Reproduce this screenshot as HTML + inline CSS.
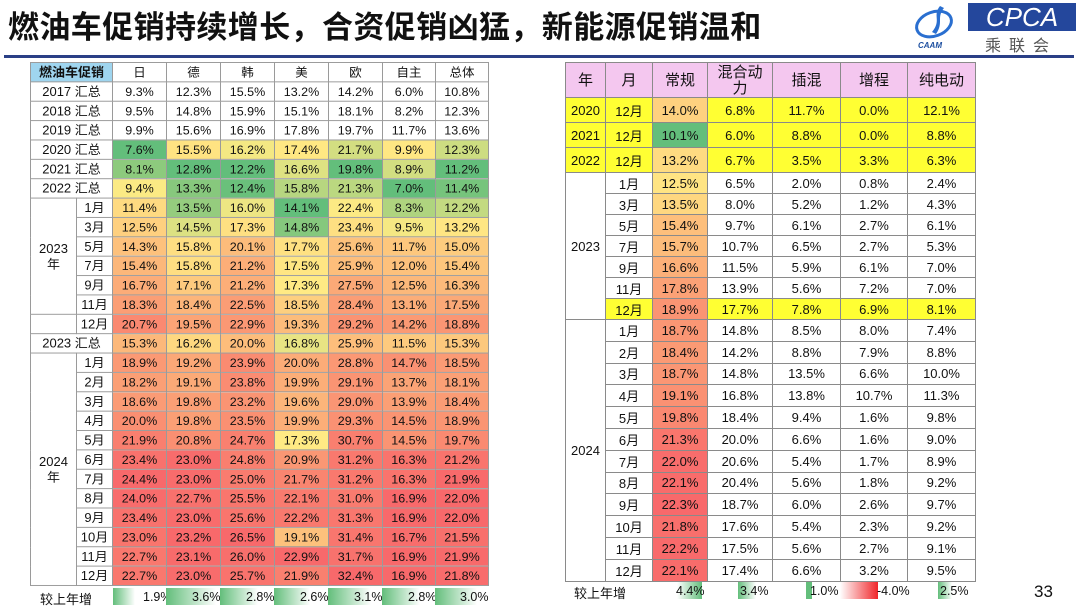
<!DOCTYPE html>
<html><head><meta charset="utf-8">
<style>
*{margin:0;padding:0;box-sizing:border-box}
body{width:1080px;height:608px;background:#fff;position:relative;overflow:hidden;font-family:"Liberation Sans","Noto Sans CJK SC",sans-serif;color:#111}
.title{position:absolute;left:8px;top:2px;font-size:31px;font-weight:bold;letter-spacing:0.4px;font-family:"Noto Sans CJK SC","WenQuanYi Zen Hei",sans-serif;color:#111;white-space:nowrap}
.line{position:absolute;left:4px;right:6px;top:55px;height:3px;background:#2a3f86}
table{position:absolute;border-collapse:collapse;table-layout:fixed;font-size:12.5px}
td{border:1px solid #9a9a9a;text-align:center;white-space:nowrap;overflow:hidden;padding:0}
#L{left:30px;top:62px;width:458px;transform:scaleY(0.9685);transform-origin:0 0}
#L tr{height:20px}
#L td{line-height:16px}
#L td.lab{font-size:13px}
#R{left:565px;top:62px;width:410px;font-size:13px}
#R td{border-color:#8a8a8a}
#R tr.hd td{background:#f4c7ef;height:35px;font-size:15px;line-height:16px;font-family:"Noto Sans CJK SC",sans-serif}
#R tr.y td{background:#ffff33;height:25px}
#R tr.a td{height:21px}
#R tr.b td{height:21.8px}
.foot{position:absolute;font-size:12.5px}
.bar{position:absolute;height:17px}
</style></head><body>
<div class="title">燃油车促销持续增长，合资促销凶猛，新能源促销温和</div>
<div class="line"></div>
<svg style="position:absolute;left:912px;top:2px" width="48" height="48" viewBox="0 0 48 48">
<ellipse cx="22" cy="22" rx="18" ry="12" fill="none" stroke="#2a6fd0" stroke-width="3" transform="rotate(-20 22 22)"/>
<path d="M28 4 C20 14 30 18 20 30 L24 32 C32 20 24 16 32 6Z" fill="#2a6fd0"/>
<text x="6" y="46" font-size="8" font-weight="bold" font-style="italic" fill="#1d4fa0" font-family="Liberation Sans">CAAM</text>
</svg>
<div style="position:absolute;left:968px;top:3px;width:108px;height:28px;background:#24479c;color:#fff;font:italic 26px 'Liberation Sans',sans-serif;line-height:28px;text-align:center">CPCA</div>
<div style="position:absolute;left:985px;top:32px;font-size:16px;color:#555;letter-spacing:8px;font-family:'Noto Sans CJK SC',sans-serif">乘联会</div>

<table id="L">
<colgroup><col style="width:46px"><col style="width:36px"><col style="width:54px"><col style="width:54px"><col style="width:54px"><col style="width:54px"><col style="width:54px"><col style="width:53px"><col style="width:53px"></colgroup>
<tr><td colspan="2" class="lab" style="background:#9fd5ef;font-weight:bold">燃油车促销</td><td>日</td><td>德</td><td>韩</td><td>美</td><td>欧</td><td>自主</td><td>总体</td></tr>
<tr><td colspan="2" class="lab">2017 汇总</td><td>9.3%</td><td>12.3%</td><td>15.5%</td><td>13.2%</td><td>14.2%</td><td>6.0%</td><td>10.8%</td></tr>
<tr><td colspan="2" class="lab">2018 汇总</td><td>9.5%</td><td>14.8%</td><td>15.9%</td><td>15.1%</td><td>18.1%</td><td>8.2%</td><td>12.3%</td></tr>
<tr><td colspan="2" class="lab">2019 汇总</td><td>9.9%</td><td>15.6%</td><td>16.9%</td><td>17.8%</td><td>19.7%</td><td>11.7%</td><td>13.6%</td></tr>
<tr class="hm"><td colspan="2" class="lab">2020 汇总</td><td>7.6%</td><td>15.5%</td><td>16.2%</td><td>17.4%</td><td>21.7%</td><td>9.9%</td><td>12.3%</td></tr>
<tr class="hm"><td colspan="2" class="lab">2021 汇总</td><td>8.1%</td><td>12.8%</td><td>12.2%</td><td>16.6%</td><td>19.8%</td><td>8.9%</td><td>11.2%</td></tr>
<tr class="hm"><td colspan="2" class="lab">2022 汇总</td><td>9.4%</td><td>13.3%</td><td>12.4%</td><td>15.8%</td><td>21.3%</td><td>7.0%</td><td>11.4%</td></tr>
<tr class="hm"><td rowspan="6" class="lab">2023<br>年</td><td class="lab">1月</td><td>11.4%</td><td>13.5%</td><td>16.0%</td><td>14.1%</td><td>22.4%</td><td>8.3%</td><td>12.2%</td></tr>
<tr class="hm"><td class="lab">3月</td><td>12.5%</td><td>14.5%</td><td>17.3%</td><td>14.8%</td><td>23.4%</td><td>9.5%</td><td>13.2%</td></tr>
<tr class="hm"><td class="lab">5月</td><td>14.3%</td><td>15.8%</td><td>20.1%</td><td>17.7%</td><td>25.6%</td><td>11.7%</td><td>15.0%</td></tr>
<tr class="hm"><td class="lab">7月</td><td>15.4%</td><td>15.8%</td><td>21.2%</td><td>17.5%</td><td>25.9%</td><td>12.0%</td><td>15.4%</td></tr>
<tr class="hm"><td class="lab">9月</td><td>16.7%</td><td>17.1%</td><td>21.2%</td><td>17.3%</td><td>27.5%</td><td>12.5%</td><td>16.3%</td></tr>
<tr class="hm"><td class="lab">11月</td><td>18.3%</td><td>18.4%</td><td>22.5%</td><td>18.5%</td><td>28.4%</td><td>13.1%</td><td>17.5%</td></tr>
<tr class="hm"><td></td><td class="lab">12月</td><td>20.7%</td><td>19.5%</td><td>22.9%</td><td>19.3%</td><td>29.2%</td><td>14.2%</td><td>18.8%</td></tr>
<tr class="hm"><td colspan="2" class="lab">2023 汇总</td><td>15.3%</td><td>16.2%</td><td>20.0%</td><td>16.8%</td><td>25.9%</td><td>11.5%</td><td>15.3%</td></tr>
<tr class="hm"><td rowspan="12" class="lab">2024<br>年</td><td class="lab">1月</td><td>18.9%</td><td>19.2%</td><td>23.9%</td><td>20.0%</td><td>28.8%</td><td>14.7%</td><td>18.5%</td></tr>
<tr class="hm"><td class="lab">2月</td><td>18.2%</td><td>19.1%</td><td>23.8%</td><td>19.9%</td><td>29.1%</td><td>13.7%</td><td>18.1%</td></tr>
<tr class="hm"><td class="lab">3月</td><td>18.6%</td><td>19.8%</td><td>23.2%</td><td>19.6%</td><td>29.0%</td><td>13.9%</td><td>18.4%</td></tr>
<tr class="hm"><td class="lab">4月</td><td>20.0%</td><td>19.8%</td><td>23.5%</td><td>19.9%</td><td>29.3%</td><td>14.5%</td><td>18.9%</td></tr>
<tr class="hm"><td class="lab">5月</td><td>21.9%</td><td>20.8%</td><td>24.7%</td><td>17.3%</td><td>30.7%</td><td>14.5%</td><td>19.7%</td></tr>
<tr class="hm"><td class="lab">6月</td><td>23.4%</td><td>23.0%</td><td>24.8%</td><td>20.9%</td><td>31.2%</td><td>16.3%</td><td>21.2%</td></tr>
<tr class="hm"><td class="lab">7月</td><td>24.4%</td><td>23.0%</td><td>25.0%</td><td>21.7%</td><td>31.2%</td><td>16.3%</td><td>21.9%</td></tr>
<tr class="hm"><td class="lab">8月</td><td>24.0%</td><td>22.7%</td><td>25.5%</td><td>22.1%</td><td>31.0%</td><td>16.9%</td><td>22.0%</td></tr>
<tr class="hm"><td class="lab">9月</td><td>23.4%</td><td>23.0%</td><td>25.6%</td><td>22.2%</td><td>31.3%</td><td>16.9%</td><td>22.0%</td></tr>
<tr class="hm"><td class="lab">10月</td><td>23.0%</td><td>23.2%</td><td>26.5%</td><td>19.1%</td><td>31.4%</td><td>16.7%</td><td>21.5%</td></tr>
<tr class="hm"><td class="lab">11月</td><td>22.7%</td><td>23.1%</td><td>26.0%</td><td>22.9%</td><td>31.7%</td><td>16.9%</td><td>21.9%</td></tr>
<tr class="hm"><td class="lab">12月</td><td>22.7%</td><td>23.0%</td><td>25.7%</td><td>21.9%</td><td>32.4%</td><td>16.9%</td><td>21.8%</td></tr>
</table>

<div class="foot" style="left:40px;top:589px;font-size:13px">较上年增</div>
<div class="bar" style="left:113px;top:588px;width:22px;background:linear-gradient(90deg,#63be7b,#fff)"></div><div class="foot" style="left:143px;top:590px">1.9%</div>
<div class="bar" style="left:166px;top:588px;width:50px;background:linear-gradient(90deg,#63be7b,#fff)"></div><div class="foot" style="left:192px;top:590px">3.6%</div>
<div class="bar" style="left:220px;top:588px;width:38px;background:linear-gradient(90deg,#63be7b,#fff)"></div><div class="foot" style="left:246px;top:590px">2.8%</div>
<div class="bar" style="left:274px;top:588px;width:36px;background:linear-gradient(90deg,#63be7b,#fff)"></div><div class="foot" style="left:300px;top:590px">2.6%</div>
<div class="bar" style="left:328px;top:588px;width:43px;background:linear-gradient(90deg,#63be7b,#fff)"></div><div class="foot" style="left:354px;top:590px">3.1%</div>
<div class="bar" style="left:382px;top:588px;width:38px;background:linear-gradient(90deg,#63be7b,#fff)"></div><div class="foot" style="left:408px;top:590px">2.8%</div>
<div class="bar" style="left:435px;top:588px;width:42px;background:linear-gradient(90deg,#63be7b,#fff)"></div><div class="foot" style="left:460px;top:590px">3.0%</div>

<table id="R">
<colgroup><col style="width:40px"><col style="width:47px"><col style="width:55px"><col style="width:65px"><col style="width:68px"><col style="width:67px"><col style="width:68px"></colgroup>
<tr class="hd"><td>年</td><td>月</td><td>常规</td><td>混合动<br>力</td><td>插混</td><td>增程</td><td>纯电动</td></tr>
<tr class="y"><td>2020</td><td>12月</td><td class="h">14.0%</td><td>6.8%</td><td>11.7%</td><td>0.0%</td><td>12.1%</td></tr>
<tr class="y"><td>2021</td><td>12月</td><td class="h">10.1%</td><td>6.0%</td><td>8.8%</td><td>0.0%</td><td>8.8%</td></tr>
<tr class="y"><td>2022</td><td>12月</td><td class="h">13.2%</td><td>6.7%</td><td>3.5%</td><td>3.3%</td><td>6.3%</td></tr>
<tr class="a"><td rowspan="7">2023</td><td>1月</td><td class="h">12.5%</td><td>6.5%</td><td>2.0%</td><td>0.8%</td><td>2.4%</td></tr>
<tr class="a"><td>3月</td><td class="h">13.5%</td><td>8.0%</td><td>5.2%</td><td>1.2%</td><td>4.3%</td></tr>
<tr class="a"><td>5月</td><td class="h">15.4%</td><td>9.7%</td><td>6.1%</td><td>2.7%</td><td>6.1%</td></tr>
<tr class="a"><td>7月</td><td class="h">15.7%</td><td>10.7%</td><td>6.5%</td><td>2.7%</td><td>5.3%</td></tr>
<tr class="a"><td>9月</td><td class="h">16.6%</td><td>11.5%</td><td>5.9%</td><td>6.1%</td><td>7.0%</td></tr>
<tr class="a"><td>11月</td><td class="h">17.8%</td><td>13.9%</td><td>5.6%</td><td>7.2%</td><td>7.0%</td></tr>
<tr class="a"><td style="background:#ffff33">12月</td><td class="h">18.9%</td><td style="background:#ffff33">17.7%</td><td style="background:#ffff33">7.8%</td><td style="background:#ffff33">6.9%</td><td style="background:#ffff33">8.1%</td></tr>
<tr class="b"><td rowspan="12">2024</td><td>1月</td><td class="h">18.7%</td><td>14.8%</td><td>8.5%</td><td>8.0%</td><td>7.4%</td></tr>
<tr class="b"><td>2月</td><td class="h">18.4%</td><td>14.2%</td><td>8.8%</td><td>7.9%</td><td>8.8%</td></tr>
<tr class="b"><td>3月</td><td class="h">18.7%</td><td>14.8%</td><td>13.5%</td><td>6.6%</td><td>10.0%</td></tr>
<tr class="b"><td>4月</td><td class="h">19.1%</td><td>16.8%</td><td>13.8%</td><td>10.7%</td><td>11.3%</td></tr>
<tr class="b"><td>5月</td><td class="h">19.8%</td><td>18.4%</td><td>9.4%</td><td>1.6%</td><td>9.8%</td></tr>
<tr class="b"><td>6月</td><td class="h">21.3%</td><td>20.0%</td><td>6.6%</td><td>1.6%</td><td>9.0%</td></tr>
<tr class="b"><td>7月</td><td class="h">22.0%</td><td>20.6%</td><td>5.4%</td><td>1.7%</td><td>8.9%</td></tr>
<tr class="b"><td>8月</td><td class="h">22.1%</td><td>20.4%</td><td>5.6%</td><td>1.8%</td><td>9.2%</td></tr>
<tr class="b"><td>9月</td><td class="h">22.3%</td><td>18.7%</td><td>6.0%</td><td>2.6%</td><td>9.7%</td></tr>
<tr class="b"><td>10月</td><td class="h">21.8%</td><td>17.6%</td><td>5.4%</td><td>2.3%</td><td>9.2%</td></tr>
<tr class="b"><td>11月</td><td class="h">22.2%</td><td>17.5%</td><td>5.6%</td><td>2.7%</td><td>9.1%</td></tr>
<tr class="b"><td>12月</td><td class="h">22.1%</td><td>17.4%</td><td>6.6%</td><td>3.2%</td><td>9.5%</td></tr>
</table>

<div class="foot" style="left:574px;top:583px;font-size:13px">较上年增</div>
<div class="bar" style="left:677px;top:582px;width:25px;background:linear-gradient(90deg,#fff,#63be7b)"></div><div class="foot" style="left:676px;top:584px">4.4%</div>
<div class="bar" style="left:738px;top:582px;width:18px;background:linear-gradient(90deg,#63be7b,#fff)"></div><div class="foot" style="left:740px;top:584px">3.4%</div>
<div class="bar" style="left:806px;top:582px;width:6px;background:#63be7b"></div><div class="foot" style="left:810px;top:584px">1.0%</div>
<div class="bar" style="left:840px;top:582px;width:38px;background:linear-gradient(90deg,#fff,#f0262a)"></div><div class="foot" style="left:877px;top:584px">-4.0%</div>
<div class="bar" style="left:938px;top:582px;width:14px;background:linear-gradient(90deg,#63be7b,#fff)"></div><div class="foot" style="left:940px;top:584px">2.5%</div>
<div style="position:absolute;left:1034px;top:582px;font-size:17px">33</div>

<script>
function col(t){var g=[99,190,123],y=[255,235,132],r=[248,105,107],a,b;
if(t<0.5){a=g;b=y;t=t*2}else{a=y;b=r;t=(t-0.5)*2}
return 'rgb('+a.map(function(v,i){return Math.round(v+(b[i]-v)*t)}).join(',')+')'}
function scale(cells,k){var v=cells.map(function(c){return parseFloat(c.textContent)});
var mn=Math.min.apply(null,v),mx=Math.max.apply(null,v),md=mn+k*(mx-mn);
cells.forEach(function(c,i){var x=v[i],t=x<=md?0.5*(x-mn)/(md-mn):0.5+0.5*(x-md)/(mx-md);c.style.background=col(t)})}
var rows=[].slice.call(document.querySelectorAll('#L tr.hm'));
var ks=[0.11,0.21,0.30,0.36,0.21,0.27,0.15];
for(var j=0;j<7;j++){var cs=rows.map(function(r){var c=r.cells;return c[c.length-7+j]});scale(cs,ks[j])}
scale([].slice.call(document.querySelectorAll('#R td.h')),0.15);
</script>
</body></html>
